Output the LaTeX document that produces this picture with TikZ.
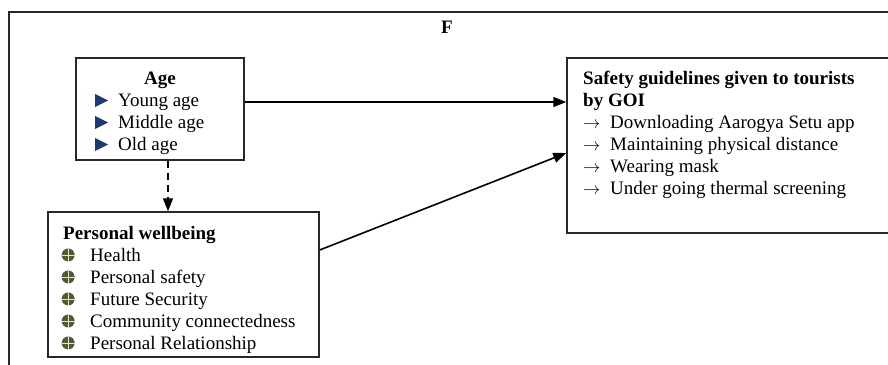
\documentclass[tikz,border=0pt]{standalone}
\usepackage{fontspec}
\setmainfont{Liberation Serif}
\usetikzlibrary{arrows.meta}
\definecolor{triBlue}{RGB}{31,56,110}
\definecolor{dotOlive}{RGB}{88,88,48}
\definecolor{frameGray}{RGB}{40,40,40}
\newcommand{\boxfont}{\fontsize{19}{22}\selectfont}
\newcommand{\tribul}{\tikz[baseline=0pt]\fill[triBlue] (0pt,-1pt) -- (0pt,12pt) -- (13pt,5.5pt) -- cycle;}
\newcommand{\crossbul}{\tikz[baseline=0pt]{\fill[dotOlive] (6.5pt,6pt) circle (6.5pt);
  \draw[white!80!gray, line width=0.9pt] (0pt,6pt) -- (13pt,6pt) (6.5pt,-0.5pt) -- (6.5pt,12.5pt);}}
\tikzset{
  frame/.style={draw=frameGray, line width=1.4pt},
  box/.style={draw=frameGray, line width=1.4pt, inner sep=0pt},
  txt/.style={anchor=base west, inner sep=0pt, font=\boxfont},
  arrow/.style={-{Triangle[length=13pt,width=10pt]}, line width=1.6pt},
  dasharrow/.style={arrow, dash pattern=on 7pt off 5pt}
}

\begin{document}
\begin{tikzpicture}[x=1pt,y=-1pt]
  \useasboundingbox (0,0) rectangle (888,364);
  \clip (0,0) rectangle (888,364);
  \draw[frame] (9,12) rectangle (905,380);
  \node[txt, anchor=base, font=\boxfont\bfseries] (ftitle) at (447,33) {F};

  \node[box, minimum width=168pt, minimum height=102pt] (age) at (160,109) {};
  \node[box, minimum width=271pt, minimum height=145pt] (well) at (183.5,284.5) {};
  \node[box, minimum width=340pt, minimum height=175pt] (guide) at (737,145.5) {};

  \node[txt, anchor=base, font=\boxfont\bfseries] (agehead) at (160,84) {Age};
  \node[txt] (agelist) at (95,106) {\begin{tabular}[t]{@{}p{23pt}@{}l@{}}
    \tribul & Young age\\
    \tribul & Middle age\\
    \tribul & Old age
  \end{tabular}};
  \node[txt] (welllist) at (61,239) {\begin{tabular}[t]{@{}p{29pt}@{}l@{}}
    \multicolumn{2}{@{\hspace{2pt}}l@{}}{\textbf{Personal wellbeing}}\\
    \crossbul & Health\\
    \crossbul & Personal safety\\
    \crossbul & Future Security\\
    \crossbul & Community connectedness\\
    \crossbul & Personal Relationship
  \end{tabular}};
  \node[txt] (guidelist) at (583,84) {\begin{tabular}[t]{@{}p{27pt}@{}l@{}}
    \multicolumn{2}{@{}l@{}}{\textbf{Safety guidelines given to tourists}}\\
    \multicolumn{2}{@{}l@{}}{\textbf{by GOI}}\\
    $\rightarrow$ & Downloading Aarogya Setu app\\
    $\rightarrow$ & Maintaining physical distance\\
    $\rightarrow$ & Wearing mask\\
    $\rightarrow$ & Under going thermal screening
  \end{tabular}};

  \draw[arrow] ([yshift=7pt]age.east) -- ([yshift=7pt]age.east -| guide.west);
  \draw[dasharrow] ([xshift=8pt]age.south) -- ([xshift=8pt]age.south |- well.north);
  \draw[arrow] ([yshift=34.5pt]well.east) -- ([yshift=-7.5pt]guide.west);
\end{tikzpicture}
\end{document}
